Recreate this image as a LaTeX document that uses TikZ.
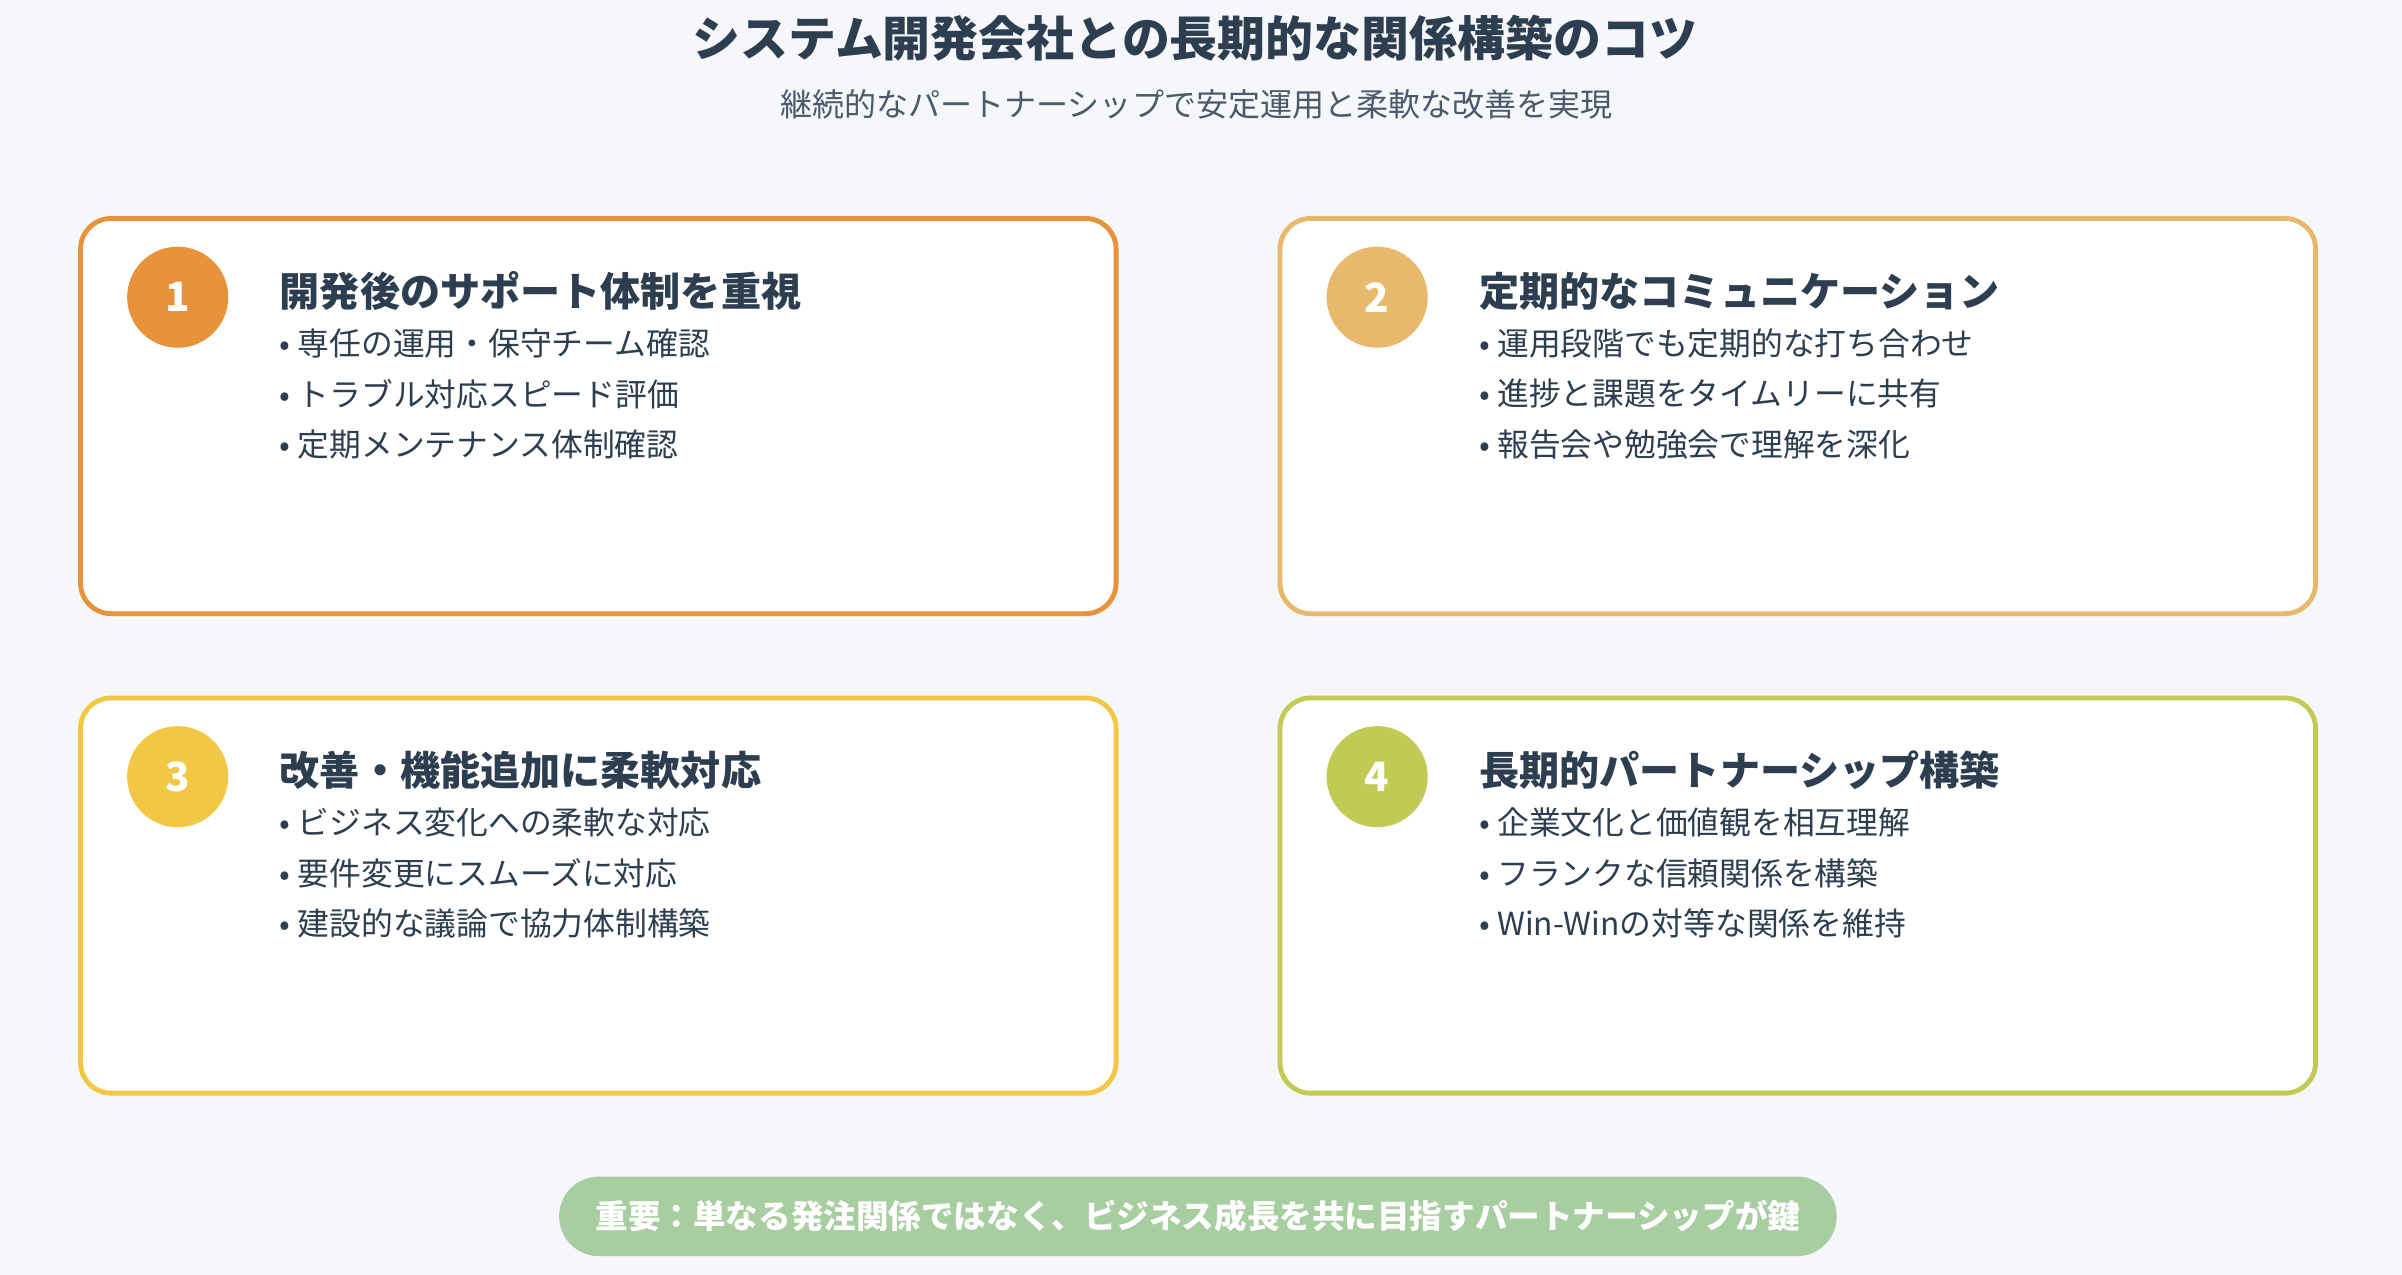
\documentclass[tikz,border=0pt]{standalone}
\usepackage{fontspec}
\setmainfont{Noto Sans CJK JP}
\usepackage{tikz}
\usetikzlibrary{
  positioning,  % Function "of"
  backgrounds,
}
\definecolor{bgc}{HTML}{F5F7FA}
\definecolor{txt}{HTML}{2C3E50}
\definecolor{subt}{HTML}{4A5A6A}
\definecolor{cA}{HTML}{E8923A}
\definecolor{cB}{HTML}{E8B96C}
\definecolor{cC}{HTML}{F2C744}
\definecolor{cD}{HTML}{C2C955}
\definecolor{pill}{HTML}{A8CDA0}
\newcommand{\bul}{\textbullet\ }
\tikzset{
  x=0.1mm, y=-0.1mm,
  card/.style={
    draw, line width=0.9pt, fill=white,
    rounded corners=2mm,
    minimum width=67.6mm, minimum height=25.8mm,
    anchor=north west
  },
  num/.style={
    circle, minimum size=6.6mm, inner sep=0,
    text=white, font=\fontsize{7.5}{8}\selectfont\bfseries
  },
  head/.style={
    anchor=west, inner sep=0, text=txt,
    font=\fontsize{7.45}{9}\selectfont\bfseries
  },
  item/.style={
    anchor=west, inner sep=0, text=txt,
    font=\fontsize{5.9}{7}\selectfont
  },
}
\begin{document}
\begin{tikzpicture}
\useasboundingbox[fill=bgc] (0,0) rectangle (1568,832);
% Title
\node[text=txt,font=\fontsize{8.9}{10}\selectfont\bfseries] (title) at (780,25)
  {システム開発会社との長期的な関係構築のコツ};
\node[text=subt,font=\fontsize{5.95}{7}\selectfont] (sub) at (781,68)
  {継続的なパートナーシップで安定運用と柔軟な改善を実現};
% Cards
\foreach \i/\x/\y/\c/\h/\a/\b/\d in {
  1/51/141/cA/開発後のサポート体制を重視/専任の運用・保守チーム確認/トラブル対応スピード評価/定期メンテナンス体制確認,
  2/834/141/cB/定期的なコミュニケーション/運用段階でも定期的な打ち合わせ/進捗と課題をタイムリーに共有/報告会や勉強会で理解を深化,
  3/51/454/cC/改善・機能追加に柔軟対応/ビジネス変化への柔軟な対応/要件変更にスムーズに対応/建設的な議論で協力体制構築,
  4/834/454/cD/長期的パートナーシップ構築/企業文化と価値観を相互理解/フランクな信頼関係を構築/Win-Winの対等な関係を維持}{
  \node[card,draw=\c] (card\i) at (\x,\y) {};
  \node[num,fill=\c] (num\i) at (\x+65,\y+53) {\i};
  \node[head] (head\i) at (\x+131,\y+49) {\h};
  \node[item] (itema\i) at (\x+131,\y+83) {\bul\a};
  \node[item] (itemb\i) at (\x+131,\y+116) {\bul\b};
  \node[item] (itemc\i) at (\x+131,\y+149) {\bul\d};
}
% Key message
\node[fill=pill,rounded corners=2.6mm,minimum width=83.4mm,minimum height=5.2mm,
  text=white,font=\fontsize{6.05}{7}\selectfont\bfseries] (key) at (782,794)
  {重要：単なる発注関係ではなく、ビジネス成長を共に目指すパートナーシップが鍵};
\end{tikzpicture}
\end{document}
